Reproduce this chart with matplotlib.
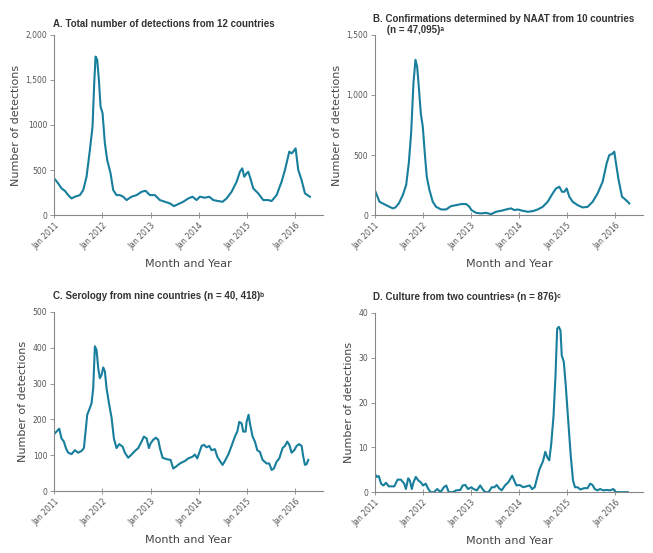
import numpy as np
import matplotlib
matplotlib.use("Agg")
import matplotlib.pyplot as plt

# panel A: total detections (x in fractional years since 2011)
a_t = [0.00, 0.083, 0.152, 0.221, 0.290, 0.360, 0.429, 0.533, 0.602, 0.671, 0.740, 0.795, 0.830,
       0.858, 0.892, 0.927, 0.961, 1.003, 1.051, 1.100, 1.169, 1.224, 1.293, 1.362, 1.432, 1.501,
       1.604, 1.708, 1.812, 1.895, 1.985, 2.089, 2.192, 2.296, 2.400, 2.483, 2.573, 2.676, 2.780,
       2.870, 2.953, 3.022, 3.126, 3.216, 3.299, 3.402, 3.492, 3.575, 3.679, 3.783, 3.852, 3.900,
       3.942, 3.990, 4.025, 4.059, 4.129, 4.232, 4.336, 4.440, 4.509, 4.613, 4.716, 4.786, 4.876,
       4.924, 4.959, 5.007, 5.062, 5.131, 5.201, 5.304]
a_v = [407, 352, 296, 270, 222, 185, 204, 222, 278, 426, 722, 981, 1463,
       1759, 1722, 1500, 1204, 1130, 796, 611, 463, 278, 222, 222, 204, 167,
       204, 222, 259, 270, 222, 222, 167, 148, 130, 100, 122, 148, 185,
       204, 167, 204, 193, 204, 167, 156, 148, 185, 259, 370, 481, 519,
       426, 463, 481, 426, 296, 241, 167, 167, 156, 222, 370, 500, 704,
       685, 704, 741, 500, 389, 241, 204]

# panel B: NAAT confirmations
b_t = [0.00, 0.042, 0.097, 0.166, 0.235, 0.305, 0.374, 0.429, 0.499, 0.582, 0.651, 0.706, 0.755,
       0.803, 0.845, 0.880, 0.914, 0.956, 0.997, 1.039, 1.080, 1.136, 1.205, 1.274, 1.378, 1.482,
       1.586, 1.690, 1.794, 1.898, 1.967, 2.008, 2.105, 2.209, 2.313, 2.417, 2.521, 2.625, 2.729,
       2.832, 2.902, 2.971, 3.075, 3.179, 3.283, 3.386, 3.490, 3.594, 3.698, 3.767, 3.837, 3.892,
       3.941, 3.989, 4.044, 4.114, 4.217, 4.321, 4.425, 4.529, 4.633, 4.737, 4.820, 4.875, 4.931,
       4.979, 5.014, 5.069, 5.139, 5.222, 5.291]
b_v = [208, 167, 111, 97, 83, 69, 56, 64, 97, 167, 250, 431, 681,
       1097, 1292, 1236, 1069, 847, 736, 514, 319, 208, 111, 69, 47, 47,
       75, 83, 92, 92, 69, 42, 19, 14, 19, 8, 28, 36, 47,
       56, 42, 47, 36, 28, 33, 47, 69, 111, 181, 222, 236, 194,
       194, 222, 153, 111, 83, 64, 69, 111, 181, 278, 431, 500, 508,
       528, 431, 292, 153, 125, 97]

# panel C: serology
c_t = [0.00, 0.048, 0.104, 0.152, 0.201, 0.242, 0.290, 0.360, 0.429, 0.498, 0.567, 0.616, 0.657,
       0.685, 0.726, 0.775, 0.809, 0.844, 0.878, 0.913, 0.947, 0.982, 1.017, 1.051, 1.086, 1.141,
       1.190, 1.238, 1.293, 1.349, 1.418, 1.466, 1.535, 1.604, 1.674, 1.743, 1.812, 1.860, 1.916,
       1.964, 1.999, 2.054, 2.109, 2.158, 2.192, 2.248, 2.331, 2.414, 2.469, 2.524, 2.607, 2.711,
       2.780, 2.870, 2.918, 2.967, 3.022, 3.057, 3.105, 3.160, 3.216, 3.264, 3.333, 3.382, 3.437,
       3.492, 3.541, 3.610, 3.679, 3.748, 3.797, 3.838, 3.887, 3.921, 3.970, 3.990, 4.032, 4.059,
       4.115, 4.163, 4.212, 4.267, 4.322, 4.405, 4.461, 4.509, 4.557, 4.613, 4.668, 4.737, 4.786,
       4.834, 4.876, 4.924, 4.979, 5.028, 5.083, 5.131, 5.166, 5.201, 5.235, 5.270]
c_v = [159, 166, 174, 147, 138, 120, 107, 103, 114, 107, 112, 120, 175,
       213, 227, 245, 287, 404, 394, 343, 315, 324, 345, 334, 287, 241,
       205, 147, 120, 131, 124, 107, 93, 102, 112, 120, 138, 152, 147,
       120, 133, 143, 149, 143, 120, 93, 89, 87, 63, 68, 77, 84,
       91, 96, 102, 91, 112, 126, 129, 122, 126, 114, 117, 96, 84,
       73, 84, 102, 126, 152, 166, 193, 189, 166, 166, 193, 213, 189,
       152, 138, 114, 109, 87, 77, 77, 59, 63, 82, 91, 120, 126,
       138, 129, 107, 114, 126, 131, 126, 96, 73, 75, 87]

# panel D: culture
d_t = [0.00, 0.041, 0.082, 0.130, 0.179, 0.234, 0.288, 0.337, 0.405, 0.474, 0.543, 0.611, 0.646,
       0.694, 0.728, 0.769, 0.804, 0.852, 0.907, 0.955, 1.003, 1.058, 1.113, 1.161, 1.229, 1.298,
       1.367, 1.435, 1.484, 1.538, 1.621, 1.690, 1.779, 1.827, 1.882, 1.937, 2.005, 2.054, 2.122,
       2.191, 2.239, 2.294, 2.363, 2.431, 2.486, 2.534, 2.582, 2.637, 2.706, 2.775, 2.857, 2.898,
       2.946, 3.015, 3.084, 3.152, 3.221, 3.269, 3.324, 3.379, 3.427, 3.496, 3.544, 3.585, 3.626,
       3.668, 3.716, 3.757, 3.791, 3.826, 3.860, 3.887, 3.929, 3.970, 4.018, 4.073, 4.121, 4.162,
       4.217, 4.272, 4.354, 4.423, 4.478, 4.526, 4.574, 4.629, 4.684, 4.753, 4.821, 4.890, 4.959,
       5.000, 5.041, 5.144, 5.261]
d_v = [4.1, 3.4, 3.6, 1.9, 1.5, 2.1, 1.3, 1.3, 1.3, 2.8, 2.8, 1.9, 0.7,
       3.1, 2.6, 0.7, 2.2, 3.4, 2.6, 2.2, 1.5, 1.9, 0.7, 0.0, 0.0, 0.7,
       0.0, 1.1, 1.5, 0.0, 0.0, 0.4, 0.5, 1.5, 1.6, 0.7, 1.1, 0.7, 0.4,
       1.5, 0.7, 0.0, 0.0, 1.1, 1.1, 1.6, 0.9, 0.4, 1.5, 2.2, 3.7, 2.6,
       1.5, 1.6, 1.1, 1.3, 1.5, 0.7, 1.1, 3.4, 5.2, 6.9, 9.0, 7.8, 7.1,
       10.8, 17.1, 26.1, 36.5, 36.9, 36.1, 30.5, 29.1, 23.8, 16.4, 8.2, 2.6, 1.1,
       1.1, 0.6, 0.9, 0.9, 1.9, 1.6, 0.7, 0.4, 0.7, 0.4, 0.5, 0.4, 0.7,
       0.1, 0.0, 0.0, 0.0]

years = [2011, 2012, 2013, 2014, 2015, 2016]
year_labels = ["Jan " + str(y) for y in years]

LINE = "#177e9c"
GREY = "#555555"
TITLE_FONT = ["Liberation Sans", "DejaVu Sans"]

panels = [
    ("A. Total number of detections from 12 countries", a_t, a_v,
     [0, 500, 1000, 1500, 2000], ["0", "500", "1000", "1,500", "2,000"]),
    ("B. Confirmations determined by NAAT from 10 countries\n     (n = 47,095)\u1d43", b_t, b_v,
     [0, 500, 1000, 1500], ["0", "500", "1,000", "1,500"]),
    ("C. Serology from nine countries (n = 40, 418)\u1d47", c_t, c_v,
     [0, 100, 200, 300, 400, 500], ["0", "100", "200", "300", "400", "500"]),
    ("D. Culture from two countries\u1d43 (n = 876)\u1d9c", d_t, d_v,
     [0, 10, 20, 30, 40], ["0", "10", "20", "30", "40"]),
]

# axes rectangles [left, bottom, width, height] in figure fraction
rects = [
    [0.083, 0.611, 0.412, 0.326],
    [0.574, 0.611, 0.411, 0.326],
    [0.083, 0.112, 0.412, 0.324],
    [0.574, 0.110, 0.411, 0.324],
]
title_y = [1.03, 1.0, 1.06, 1.06]

fig = plt.figure(figsize=(6.53, 5.53), dpi=100)

for (title, t, v, yt, ytl), r, ty in zip(panels, rects, title_y):
    ax = fig.add_axes(r)
    x = 2011 + np.array(t)
    ax.plot(x, v, color=LINE, lw=1.5, solid_joinstyle="round")
    ax.set_xlim(2011, 2016.58)
    ax.set_ylim(yt[0], yt[-1])
    ax.set_yticks(yt)
    ax.set_yticklabels(ytl, fontsize=5.5, color=GREY)
    ax.set_xticks(years)
    ax.set_xticklabels(year_labels, rotation=45, ha="right", rotation_mode="anchor",
                       fontsize=5.5, color=GREY)
    for s in ["top", "right"]:
        ax.spines[s].set_visible(False)
    for s in ["left", "bottom"]:
        ax.spines[s].set_color("#888888")
        ax.spines[s].set_linewidth(0.8)
    ax.tick_params(axis="y", direction="out", length=3, width=0.6, color="#888888", pad=2)
    ax.tick_params(axis="x", direction="inout", length=4, width=0.6, color="#888888", pad=2)
    ax.set_ylabel("Number of detections", fontsize=8, color="#444444", labelpad=3)
    ax.set_xlabel("Month and Year", fontsize=8, color="#444444", labelpad=6)
    ax.text(-0.005, ty, title, transform=ax.transAxes, fontsize=7, fontweight="bold",
            family=TITLE_FONT, color="#333333", ha="left", va="bottom", linespacing=1.1)

fig.savefig("out.png", dpi=100)
